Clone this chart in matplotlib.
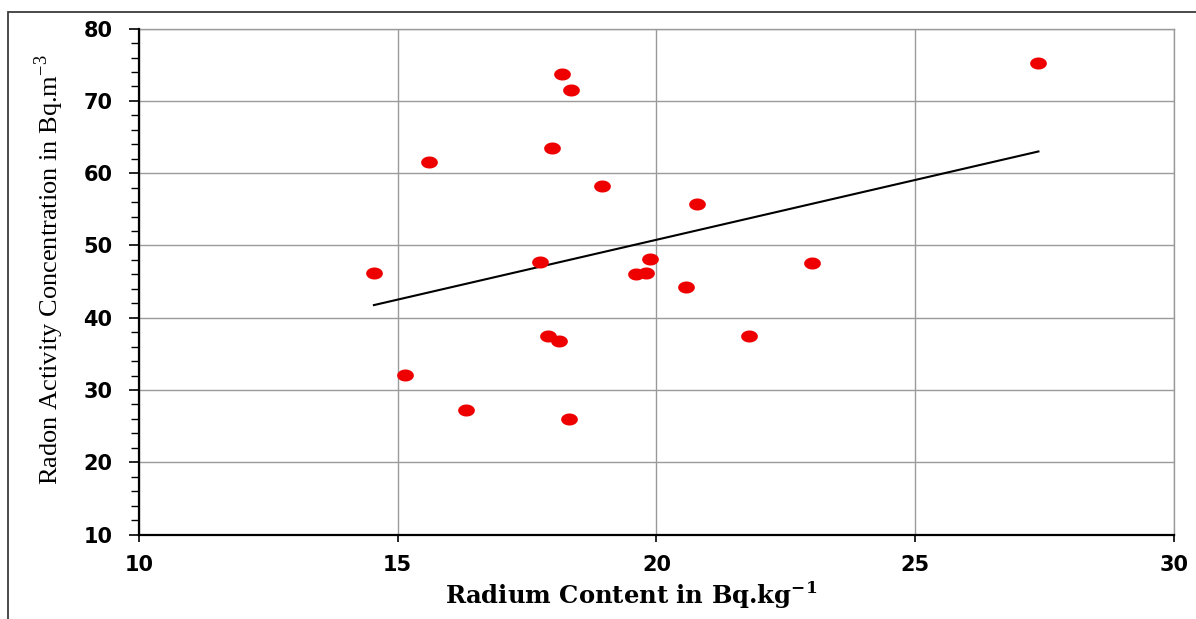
import numpy as np
import matplotlib
matplotlib.use("Agg")
import matplotlib.pyplot as plt
from matplotlib.patches import Rectangle

# Dados (Radium content x Radon activity):
radium = [18.18, 18.34, 17.99, 15.60, 18.95, 20.79, 14.54, 17.74, 19.88, 19.60,
          19.79, 20.58, 23.01, 17.90, 18.12, 21.79, 15.14, 16.31, 18.30, 27.38]
radon = [73.7, 71.5, 63.5, 61.5, 58.2, 55.7, 46.2, 47.7, 48.1, 46.0,
         46.2, 44.3, 47.6, 37.4, 36.8, 37.4, 32.1, 27.2, 26.0, 75.3]

x_ticks = [10, 15, 20, 25, 30]
y_ticks = [10, 20, 30, 40, 50, 60, 70, 80]

x_label = r"Radium Content in Bq.kg$^{\mathbf{-1}}$"
y_label = r"Radon Activity Concentration in Bq.m$^{\mathregular{-3}}$"

plt.rcParams["mathtext.fontset"] = "custom"
plt.rcParams["mathtext.rm"] = "Liberation Serif"
plt.rcParams["mathtext.bf"] = "DejaVu Serif:bold"

fig = plt.figure(figsize=(11.96, 6.19), dpi=100)
ax = fig.add_axes([0.1162, 0.1365, 0.9816 - 0.1162, 0.9538 - 0.1365])

# Marcador elíptico (pontos do original são mais largos que altos):
t = np.linspace(0, 2 * np.pi, 40)
elipse = list(zip(1.0 * np.cos(t), 0.72 * np.sin(t)))

ax.scatter(radium, radon, marker=elipse, s=145, color="#ee0000", zorder=3, linewidths=0)

# Linha de tendência (mínimos quadrados):
coef = np.polyfit(radium, radon, 1)
x_fit = np.array([min(radium), max(radium)])
ax.plot(x_fit, np.polyval(coef, x_fit), color="black", linewidth=1.5, zorder=2)

ax.set_xlim(10, 30)
ax.set_ylim(10, 80)
ax.set_xticks(x_ticks)
ax.set_yticks(y_ticks)
ax.set_yticks(np.arange(10, 81, 2), minor=True)

ax.grid(True, which="major", color="#9a9a9a", linewidth=1.0)
ax.set_axisbelow(True)
# Linhas de grade nas bordas direita e superior:
ax.axvline(30, color="#9a9a9a", linewidth=1.0, clip_on=False, zorder=0.5)
ax.axhline(80, color="#9a9a9a", linewidth=1.0, clip_on=False, zorder=0.5)

for lado in ["top", "right"]:
    ax.spines[lado].set_visible(False)
for lado in ["left", "bottom"]:
    ax.spines[lado].set_linewidth(1.6)
    ax.spines[lado].set_color("black")

ax.tick_params(axis="y", which="major", direction="out", length=7, width=1.2, pad=12)
ax.tick_params(axis="y", which="minor", direction="out", length=6, width=1.0)
ax.tick_params(axis="x", which="major", direction="out", length=5, width=1.2, pad=10)
ax.tick_params(axis="x", which="minor", length=0)

for lbl in ax.get_xticklabels() + ax.get_yticklabels():
    lbl.set_fontfamily("DejaVu Sans")
    lbl.set_fontweight("bold")
    lbl.set_fontsize(15)

fig.text(0.528, 0.025, x_label, ha="center", va="baseline",
         fontfamily="DejaVu Serif", fontweight="bold", fontsize=17.5)
fig.text(0.041, 0.565, y_label, ha="center", va="center", rotation=90,
         fontfamily="Liberation Serif", fontsize=19)

# Moldura do gráfico (bordas superior e esquerda visíveis):
fig.patches.append(Rectangle((7.7 / 1196, -0.1), 1.2, 1.1 - 11.7 / 619,
                             transform=fig.transFigure, fill=False,
                             edgecolor="#3c3c3c", linewidth=1.3))

fig.savefig("out.png", dpi=100)
